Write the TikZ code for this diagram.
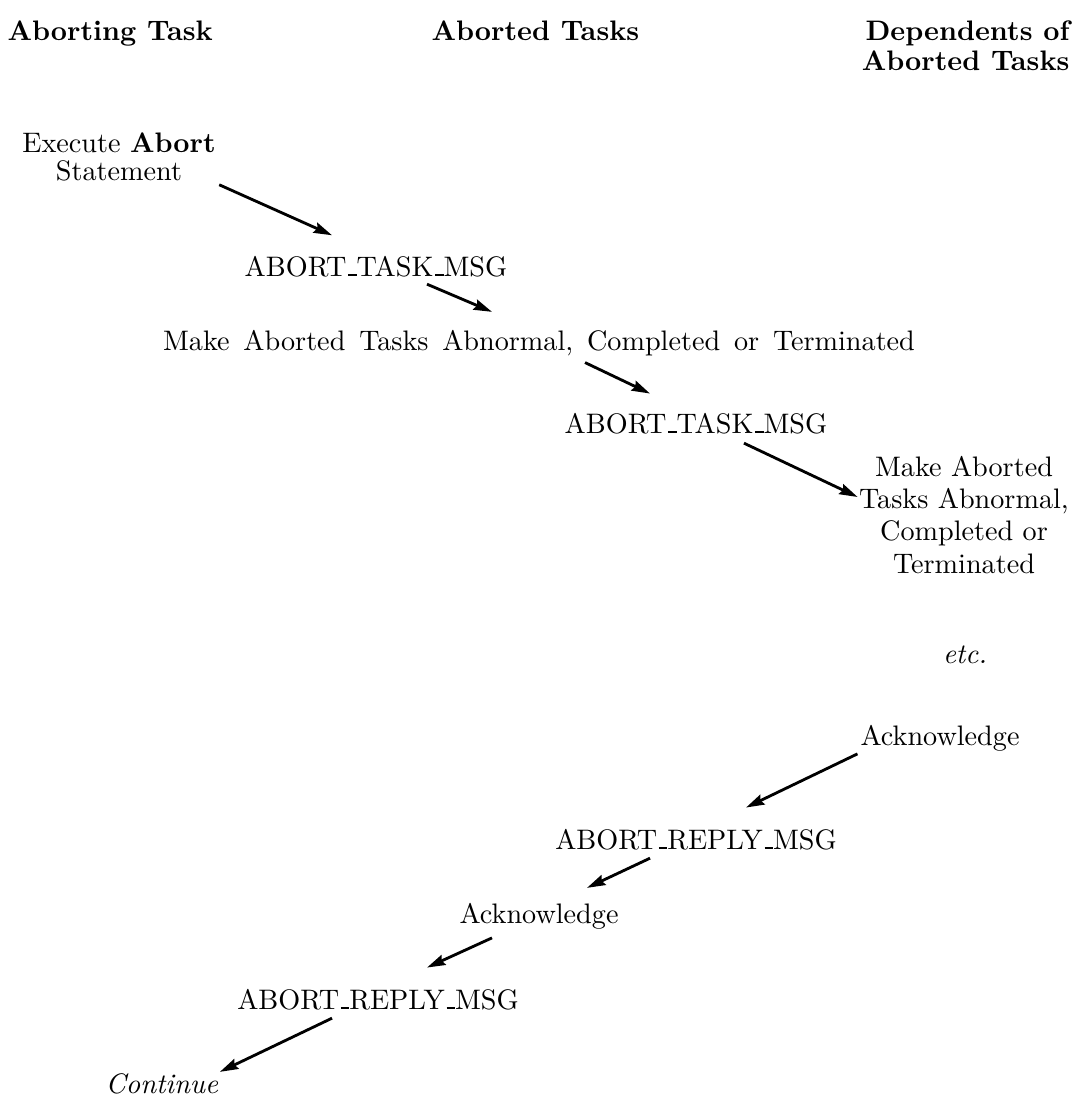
\documentclass[tikz,border=0pt]{standalone}
\usetikzlibrary{arrows.meta}
% underscore drawn as a short rule sitting on the baseline
\newcommand{\usc}{\leavevmode\kern.06em\vbox{\hrule width .3em height .8pt}}
\begin{document}
\begin{tikzpicture}[x=0.3546pt,y=-0.3546pt,
  lbl/.style={inner sep=0pt,anchor=base},
  head/.style={inner sep=0pt,font=\bfseries},
  arr/.style={line width=1pt,-{Stealth[length=6.5pt,width=3.8pt,inset=0.8pt]}}]
\useasboundingbox (0,0) rectangle (1079,1102);

% column headings
\node[head,anchor=base west] (hA) at (7,40) {Aborting Task};
\node[head,anchor=base west] (hB) at (431,40) {Aborted Tasks};
\node[head,anchor=north east,align=right,font=\fontsize{10}{10.6}\selectfont\bfseries]
  (hC) at (1070,20.4) {Dependents of\\Aborted Tasks};

% message sequence
\node[lbl,anchor=north,align=center,font=\fontsize{10}{9.9}\selectfont]
  (exec) at (119,132.4) {Execute \textbf{Abort}\\Statement};
\node[lbl] (tmsg1) at (376,276) {ABORT\usc TASK\usc MSG};
\node[lbl] (mk) at (539,350)
  {\spaceskip=4.9pt Make Aborted Tasks Abnormal, Completed or Terminated};
\node[lbl] (tmsg2) at (696,433) {ABORT\usc TASK\usc MSG};
\node[lbl,anchor=north,align=center,font=\fontsize{10}{11.45}\selectfont]
  (dep) at (964,455.4) {Make Aborted\\Tasks Abnormal,\\Completed or\\Terminated};
\node[lbl] (etc) at (965,663) {\textit{etc.}};
\node[lbl] (ack1) at (940,745) {Acknowledge};
\node[lbl] (rmsg1) at (696,849) {ABORT\usc REPLY\usc MSG};
\node[lbl] (ack2) at (539,923) {Acknowledge};
\node[lbl] (rmsg2) at (378,1009) {ABORT\usc REPLY\usc MSG};
\node[lbl] (cont) at (162,1093) {\textit{Continue}};

% arrows
\draw[arr] ([shift={(3,3)}]exec.south east) -- ([shift={(-44,-20)}]tmsg1.north);
\draw[arr] ([shift={(51,7)}]tmsg1.south) -- ([shift={(-47,-17.4)}]mk.north);
\draw[arr] ([shift={(46,6.5)}]mk.south) -- ([shift={(-46,-18.7)}]tmsg2.north);
\draw[arr] ([shift={(48,9)}]tmsg2.south) -- ([shift={(-1,41.6)}]dep.north west);
\draw[arr] ([shift={(-2.5,2.5)}]ack1.south west) -- ([shift={(50,-20.7)}]rmsg1.north);
\draw[arr] ([shift={(-46,8)}]rmsg1.south) -- ([shift={(48,-14.4)}]ack2.north);
\draw[arr] ([shift={(-47,8.5)}]ack2.south) -- ([shift={(49,-20.7)}]rmsg2.north);
\draw[arr] ([shift={(-46,8)}]rmsg2.south) -- ([shift={(1,-0.7)}]cont.north east);
\end{tikzpicture}
\end{document}
